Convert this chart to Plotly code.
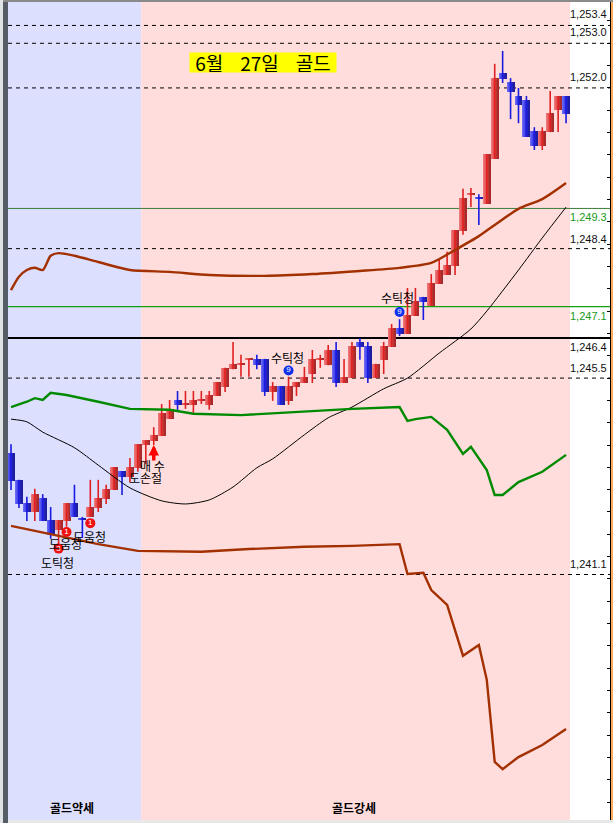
import plotly.graph_objects as go

# ---------- candle data (index 0..70): open, high, low, close ----------
opens = [1243.82,1243.22,1242.70,1242.50,1242.81,1242.32,1242.10,1242.30,1242.70,1242.35,1242.39,1242.59,1242.79,1242.99,1243.42,1243.28,1243.49,1244.00,1244.09,1244.20,1244.58,
         1245.01,1244.91,1244.90,1245.00,1244.90,1245.10,1245.30,1245.70,1245.81,1245.92,1245.93,1245.93,1245.19,1245.32,1244.99,1245.30,1245.39,1245.59,1245.92,1245.79,1246.13,1245.39,1245.50,
         1246.31,1246.22,1245.50,1245.91,1246.20,1246.62,1246.49,1246.89,1247.32,1247.12,1247.61,1247.81,1248.01,1248.80,1249.61,1249.54,1249.40,1250.41,1252.33,1252.13,1251.82,1251.73,1251.03,1250.70,1251.01,1251.51,1251.82]
highs = [1244.02,1243.22,1242.84,1243.02,1242.90,1242.61,1242.32,1242.70,1243.11,1242.39,1243.22,1243.22,1243.11,1243.51,1243.42,1243.71,1244.02,1244.11,1244.40,1244.92,1245.01,
         1245.21,1245.21,1245.21,1245.21,1245.21,1245.41,1245.73,1246.31,1246.02,1245.93,1246.02,1245.93,1245.41,1245.32,1245.53,1245.41,1245.75,1246.13,1246.02,1246.24,1246.31,1245.93,1246.31,
         1246.40,1246.31,1245.82,1246.31,1246.71,1246.82,1247.52,1247.52,1247.32,1247.83,1248.15,1248.33,1248.82,1249.74,1249.76,1249.62,1250.52,1252.54,1252.83,1252.22,1252.00,1251.82,1251.12,1251.12,1251.93,1251.82,1251.82]
lows = [1242.99,1242.59,1242.30,1242.30,1242.30,1241.90,1241.78,1242.17,1242.39,1241.92,1242.39,1242.50,1242.68,1242.99,1242.88,1243.17,1243.40,1243.58,1244.00,1244.20,1244.58,
        1244.76,1244.81,1244.72,1244.92,1244.79,1245.10,1245.19,1245.70,1245.53,1245.53,1245.70,1245.10,1244.99,1244.90,1244.90,1245.10,1245.39,1245.39,1245.73,1245.79,1245.30,1245.39,1245.50,
        1245.91,1245.39,1245.50,1245.59,1246.20,1246.44,1246.49,1246.89,1246.80,1247.12,1247.61,1247.81,1247.81,1248.71,1249.33,1248.93,1249.40,1250.41,1252.11,1251.30,1251.21,1250.90,1250.61,1250.61,1251.01,1251.01,1251.21]
closes = [1243.20,1242.68,1242.50,1242.90,1242.30,1241.99,1242.32,1242.70,1242.39,1242.33,1242.61,1242.81,1243.02,1243.51,1243.28,1243.51,1244.02,1244.11,1244.23,1244.72,1244.81,
          1244.90,1244.93,1245.01,1245.02,1245.12,1245.41,1245.73,1245.82,1245.83,1245.93,1245.79,1245.19,1245.32,1244.90,1245.32,1245.41,1245.53,1245.93,1245.93,1246.13,1245.39,1245.53,1246.22,
          1246.20,1245.50,1245.82,1246.22,1246.62,1246.49,1246.91,1247.23,1247.20,1247.63,1247.92,1248.03,1248.82,1249.53,1249.63,1249.52,1250.52,1252.22,1252.20,1251.91,1251.62,1250.90,1250.70,1251.03,1251.44,1251.82,1251.42]

# ---------- indicator lines ----------
upper_idx = [0,1,2,3,4,5,6,8,11,15,20,25,32,38,44,49,53,56,59,61,64,67,70]
upper_val = [1247.47,1247.77,1247.92,1247.97,1247.92,1248.24,1248.30,1248.24,1248.10,1247.92,1247.88,1247.81,1247.79,1247.83,1247.90,1247.97,1248.08,1248.37,1248.68,1248.93,1249.29,1249.51,1249.87]
mid_idx = [0,2,3,4,5,7,11,15,20,23,29,36,43,49,50,51,53,55,57,58,60,61,62,64,67,70]
mid_val = [1244.85,1244.97,1245.05,1245.01,1245.17,1245.12,1244.97,1244.81,1244.79,1244.70,1244.67,1244.74,1244.81,1244.85,1244.54,1244.58,1244.63,1244.34,1243.80,1243.96,1243.44,1242.88,1242.88,1243.17,1243.40,1243.78]
lower_idx = [0,5,11,16,24,30,37,43,49,50,52,53,55,57,59,60,61,62,64,67,70]
lower_val = [1242.19,1242.01,1241.78,1241.63,1241.61,1241.67,1241.72,1241.74,1241.78,1241.11,1241.14,1240.75,1240.42,1239.28,1239.52,1238.74,1236.90,1236.74,1237.01,1237.28,1237.64]
ma_idx = [0,2,4,8,11,15,19,22,25,28,31,33,37,40,43,47,50,54,58,60,64,67,70]
ma_val = [1244.58,1244.52,1244.29,1243.94,1243.55,1243.04,1242.75,1242.68,1242.77,1243.06,1243.49,1243.69,1244.23,1244.61,1244.85,1245.26,1245.50,1246.06,1246.60,1247.00,1247.92,1248.64,1249.33]

# ---------- horizontal levels and their labels ----------
dashed_levels = [1253.4,1253.0,1252.0,1248.4,1245.5,1241.1]
level_labels = ["1,253.4","1,253.0","1,252.0","1,249.3","1,248.4","1,247.1","1,246.4","1,245.5","1,241.1"]
level_values = [1253.4,1253.0,1252.0,1249.3,1248.4,1247.1,1246.4,1245.5,1241.1]
level_shift = [11,11,11,-9,10,-9,-9,10,10]
level_color = ["#111","#111","#111","#1a9a1a","#111","#1a9a1a","#111","#111","#111"]

# ---------- signals ----------
note_text = ["도틱청","도움청","도움청","도손절","매 수","수틱청","수틱청"]
note_x = [5.8,6.9,9.9,17,17.9,34.9,48.8]
note_y = [1241.36,1241.8,1241.96,1243.28,1243.55,1245.97,1247.3]
badge_red_x = [6,7,10]
badge_red_y = [1241.68,1242.05,1242.25]
badge_red_text = ["3","1","1"]
badge_blue_x = [35,49]
badge_blue_y = [1245.67,1246.98]
badge_blue_text = ["9","9"]
arrow_x = [18]
arrow_y = [1244.0]
title_text = "6월\u00a0\u00a0\u00a0\u00a027일\u00a0\u00a0\u00a0\u00a0골드"
zone_labels = ["골드약세","골드강세"]
zone_x = [7.75,43.25]
zone_y = [1235.87,1235.87]

X0, X1 = -0.38, 75.54
Y0, Y1 = 1235.6, 1253.925
ZONE_SPLIT = 16.4
PINK_END = 70.5

fig = go.Figure()

def wick_trace(idx, color):
    xs, ys = [], []
    for i in idx:
        xs += [i, i, None]
        ys += [lows[i], highs[i], None]
    return go.Scatter(x=xs, y=ys, mode="lines", line=dict(color=color, width=1.6),
                      hoverinfo="skip", showlegend=False)

up = [i for i in range(len(opens)) if closes[i] >= opens[i]]
down = [i for i in range(len(opens)) if closes[i] < opens[i]]
fig.add_trace(wick_trace(up, "#e02020"))
fig.add_trace(wick_trace(down, "#1a1ae0"))

red_stripes = ["#ee7676","#e96464","#e55555","#dc4a4a","#cf3e3e","#bd3232","#a82a2a"]
blue_stripes = ["#6a6af5","#5858f0","#4646ea","#3838de","#2c2ccc","#2424b8","#1e1ea2"]
n = len(red_stripes)
w = 0.88 / n
for idx, cols in ((up, red_stripes), (down, blue_stripes)):
    for k, c in enumerate(cols):
        base = [min(opens[i], closes[i]) for i in idx]
        hgt = [abs(opens[i] - closes[i]) for i in idx]
        fig.add_trace(go.Bar(x=idx, y=hgt, base=base, width=w, offset=-0.44 + k * w,
                             marker=dict(color=c, line=dict(width=0)),
                             hoverinfo="skip", showlegend=False))

def line(x, y, color, width, shape="linear"):
    fig.add_trace(go.Scatter(x=x, y=y, mode="lines",
                             line=dict(color=color, width=width, shape=shape, smoothing=0.7),
                             hoverinfo="skip", showlegend=False))
line(ma_idx, ma_val, "#000000", 1, "spline")
line(upper_idx, upper_val, "#a33000", 2.4, "spline")
line(mid_idx, mid_val, "#008a00", 2.4)
line(lower_idx, lower_val, "#a33000", 2.4)

fig.add_trace(go.Scatter(x=badge_red_x, y=badge_red_y, mode="markers+text", text=badge_red_text,
                         textposition="middle center",
                         textfont=dict(color="white", size=8, family="Liberation Sans"),
                         marker=dict(color="#f01010", size=10, line=dict(width=0)),
                         hoverinfo="skip", showlegend=False))
fig.add_trace(go.Scatter(x=badge_blue_x, y=badge_blue_y, mode="markers+text", text=badge_blue_text,
                         textposition="middle center",
                         textfont=dict(color="white", size=8, family="Liberation Sans"),
                         marker=dict(color="#1030f0", size=10, line=dict(width=0)),
                         hoverinfo="skip", showlegend=False))

shapes = [
    dict(type="rect", xref="x", yref="y", x0=X0, x1=ZONE_SPLIT, y0=Y0, y1=Y1,
         fillcolor="#dddfff", line_width=0, layer="below"),
    dict(type="rect", xref="x", yref="y", x0=ZONE_SPLIT, x1=PINK_END, y0=Y0, y1=Y1,
         fillcolor="#ffdddd", line_width=0, layer="below"),
]
for v in dashed_levels:
    shapes.append(dict(type="line", xref="x", yref="y", x0=X0, x1=X1, y0=v, y1=v,
                       line=dict(color="#000000", width=1, dash="4px,4px"), layer="between"))
shapes.append(dict(type="line", xref="x", yref="y", x0=X0, x1=X1, y0=1249.3, y1=1249.3,
                   line=dict(color="#3a7f3a", width=1), layer="between"))
shapes.append(dict(type="line", xref="x", yref="y", x0=X0, x1=X1, y0=1247.1, y1=1247.1,
                   line=dict(color="#10a010", width=1.2), layer="between"))
shapes.append(dict(type="line", xref="x", yref="y", x0=X0, x1=X1, y0=1246.4, y1=1246.4,
                   line=dict(color="#000000", width=2), layer="between"))
# window chrome around the plot
px = lambda p: (p - 8) / 602
py = lambda p: 1 - (p - 2) / 818
shapes += [
    dict(type="rect", xref="paper", yref="paper", x0=px(0), x1=px(3), y0=py(0), y1=py(823),
         fillcolor="#dfe3e6", line_width=0),
    dict(type="rect", xref="paper", yref="paper", x0=px(3), x1=px(8), y0=py(0), y1=py(823),
         fillcolor="#565c66", line_width=0),
    dict(type="rect", xref="paper", yref="paper", x0=px(3), x1=px(613), y0=py(0), y1=py(2),
         fillcolor="#8a8a8a", line_width=0),
    dict(type="rect", xref="paper", yref="paper", x0=px(611), x1=px(613), y0=py(2), y1=py(820),
         fillcolor="#ffa95c", line_width=0),
    dict(type="rect", xref="paper", yref="paper", x0=px(8), x1=px(613), y0=py(820), y1=py(823),
         fillcolor="#e8e8e8", line_width=0),
]

ann = []
for t, v, s, c in zip(level_labels, level_values, level_shift, level_color):
    ann.append(dict(x=PINK_END, y=v, xref="x", yref="y", text=t, showarrow=False, xanchor="left",
                    yanchor="middle", yshift=s, xshift=-2,
                    font=dict(family="Liberation Sans", size=11, color=c)))
for t, x, y in zip(note_text, note_x, note_y):
    ann.append(dict(x=x, y=y, xref="x", yref="y", text=t, showarrow=False, xanchor="center",
                    yanchor="middle", font=dict(family="Noto Sans CJK KR", size=12, color="#000")))
for t, x, y in zip(zone_labels, zone_x, zone_y):
    ann.append(dict(x=x, y=y, xref="x", yref="y", text="<b>" + t + "</b>", showarrow=False,
                    xanchor="center", yanchor="middle",
                    font=dict(family="Noto Sans CJK KR", size=12, color="#000")))
ann.append(dict(x=31.8, y=1252.57, xref="x", yref="y", text=title_text, showarrow=False,
                bgcolor="#ffff00", width=146, height=19, align="center", borderpad=0,
                font=dict(family="Noto Sans CJK KR", size=19, color="#000")))
for x, y in zip(arrow_x, arrow_y):
    ann.append(dict(x=x, y=y, xref="x", yref="y", ax=0, ay=17, showarrow=True, arrowhead=2,
                    arrowsize=0.6, arrowwidth=3.5, arrowcolor="#ff0000", text="", standoff=0,
                    startstandoff=0))

fig.update_layout(
    width=613, height=823, autosize=False,
    margin=dict(l=8, r=3, t=2, b=3),
    paper_bgcolor="white", plot_bgcolor="white",
    barmode="overlay", bargap=0, showlegend=False,
    shapes=shapes, annotations=ann,
    xaxis=dict(range=[X0, X1], showgrid=False, zeroline=False, showticklabels=False, ticks=""),
    yaxis=dict(range=[Y0, Y1], side="right", showgrid=False, zeroline=False, showticklabels=False,
               ticks="inside", tick0=1240, dtick=0.5, ticklen=3, tickcolor="#000",
               showline=True, linecolor="#000", linewidth=2),
)
fig.write_html("out.html", config={"displayModeBar": False},
               post_script="document.body.style.margin='0';document.documentElement.style.overflow='hidden';")
